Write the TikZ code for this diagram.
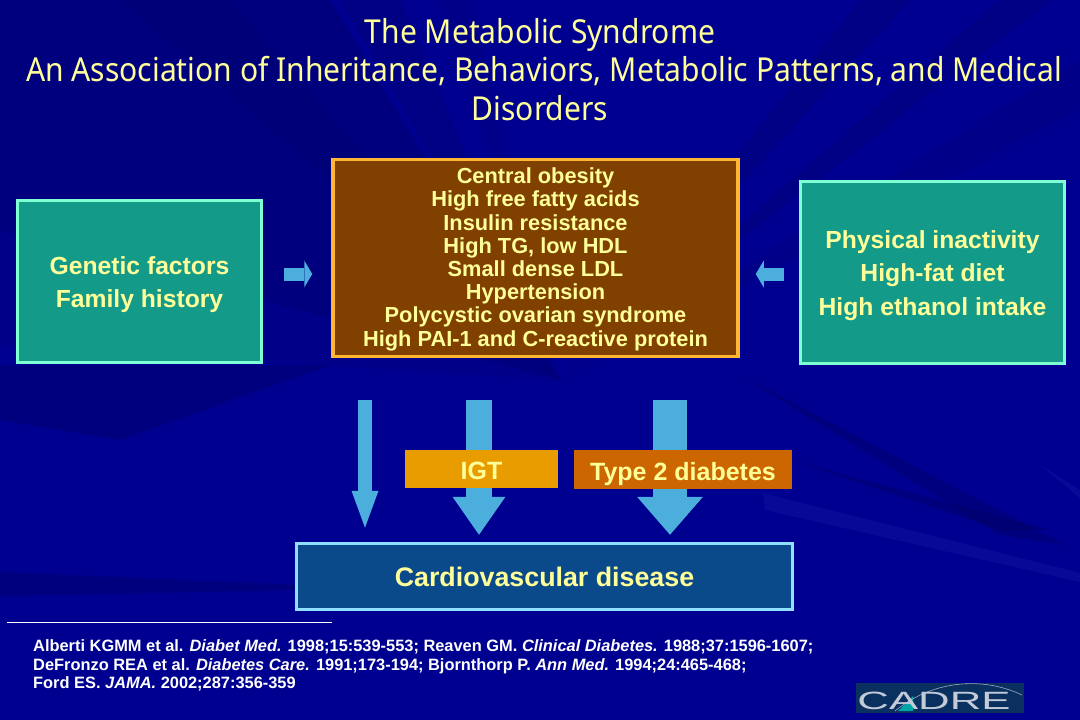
\documentclass[tikz,border=0pt]{standalone}
\usepackage{fontspec}
\setmainfont{Liberation Sans}
\newfontfamily\titlefont{Noto Sans}
\usetikzlibrary{arrows.meta}
\definecolor{bgbase}{HTML}{000090}
\definecolor{bgdark}{HTML}{000058}
\definecolor{ray}{HTML}{3A46C0}
\definecolor{titleyellow}{HTML}{FFFF99}
\definecolor{sideline}{HTML}{7FFFD4}
\definecolor{sidefill}{HTML}{149A88}
\definecolor{midline}{HTML}{FFB733}
\definecolor{midfill}{HTML}{7F4000}
\definecolor{flow}{HTML}{4BAEDC}
\definecolor{cvdline}{HTML}{8FDFFF}
\definecolor{cvdfill}{HTML}{0A4A8A}
\definecolor{igtfill}{HTML}{E89C00}
\definecolor{typefill}{HTML}{CC6600}
\definecolor{logofill}{HTML}{0A3060}
\tikzset{
	titletext/.style={font=\titlefont\fontsize{33}{38.5}\selectfont, text=titleyellow, align=center, xscale=0.91},
	sidebox/.style={draw=sideline, fill=sidefill, line width=3.5pt, inner sep=0pt, text=titleyellow, align=center, font=\bfseries\fontsize{24.7}{33.5}\selectfont},
	midbox/.style={draw=midline, fill=midfill, line width=3.5pt, inner sep=0pt, text=titleyellow, align=center, font=\bfseries\fontsize{21.8}{23.2}\selectfont},
	tagbox/.style={inner sep=0pt, text=titleyellow, text height=26pt, text depth=5pt, font=\bfseries\fontsize{25}{26}\selectfont},
	refline/.style={text=white, anchor=west, inner sep=0pt, font=\bfseries\fontsize{16.4}{18}\selectfont},
	flowarrow/.style={draw=flow, line width=#1}
}
\begin{document}
\begin{tikzpicture}[x=1pt, y=-1pt]
	\useasboundingbox (0,0) rectangle (1080,720);
	%background
	\fill[bgbase] (0,0) rectangle (1080,720);
	\foreach \ax/\ay/\bx/\by/\op in {0/0/0/230/0.3, 0/0/330/0/0.3, 120/0/230/0/0.15, 340/0/400/0/0.18, 440/0/470/0/0.12, 860/0/910/0/0.18, 1000/0/1050/0/0.18, 0/230/0/345/0.12, 1080/60/1080/110/0.12}{
		\fill[bgdark, opacity=\op] (560,380) -- (\ax,\ay) -- (\bx,\by) -- cycle;
	}
	\fill[bgdark, opacity=0.3] (0,365) -- (330,365) -- (120,440) -- (0,420) -- cycle;
	\fill[bgdark, opacity=0.3] (740,375) -- (1065,545) -- (1000,535) -- cycle;
	\fill[bgdark, opacity=0.3] (790,460) -- (1050,530) -- (1000,530) -- cycle;
	\fill[bgdark, opacity=0.3] (0,572) -- (300,585) -- (300,590) -- (0,596) -- cycle;
	\fill[ray, opacity=0.15] (763,493) -- (1080,573) -- (1080,582) -- (765,510) -- cycle;
	\fill[ray, opacity=0.15] (1040,465) -- (1080,490) -- (1080,498) -- cycle;

	%title
	\node[titletext] (maintitle) at (540,69.5) {The Metabolic Syndrome\\\hspace*{9pt}An Association of Inheritance, Behaviors, Metabolic Patterns, and Medical\\Disorders};

	%boxes
	\node[sidebox, text height=58pt, minimum width=244pt, minimum height=162pt] (genetic) at (139.5,281.5) {Genetic factors\\Family history};
	\node[midbox, text height=181pt, minimum width=405pt, minimum height=197pt] (central) at (535.5,258) {Central obesity\\High free fatty acids\\Insulin resistance\\High TG, low HDL\\Small dense LDL\\Hypertension\\Polycystic ovarian syndrome\\High PAI-1 and C-reactive protein};
	\node[sidebox, text height=91pt, minimum width=264pt, minimum height=182pt] (inactivity) at (932.5,272.5) {Physical inactivity\\High-fat diet\\High ethanol intake};
	\node[draw=cvdline, fill=cvdfill, line width=3.5pt, inner sep=0pt, text=titleyellow, font=\bfseries\fontsize{26.8}{30}\selectfont, minimum width=496pt, minimum height=66pt] (cvd) at (544.5,576.5) {Cardiovascular disease};

	%arrows
	\coordinate (inleft) at (284,274);
	\coordinate (inright) at (784,274);
	\coordinate (downa) at (365,400);
	\coordinate (downb) at (479,400);
	\coordinate (downc) at (670,400);
	\draw[flowarrow=13pt, -{Triangle[length=8pt,width=27pt,line width=0pt]}, shorten >=19pt] (inleft) -- (central.west |- inleft);
	\draw[flowarrow=13pt, -{Triangle[length=8pt,width=27pt,line width=0pt]}, shorten >=16pt] (inright) -- (central.east |- inright);
	\draw[flowarrow=14pt, -{Triangle[length=37pt,width=27pt,line width=0pt]}, shorten >=14pt] (downa) -- (downa |- cvd.north);
	\draw[flowarrow=26pt, -{Triangle[length=38pt,width=53pt,line width=0pt]}, shorten >=7pt] (downb) -- (downb |- cvd.north);
	\draw[flowarrow=34pt, -{Triangle[length=38pt,width=66pt,line width=0pt]}, shorten >=7pt] (downc) -- (downc |- cvd.north);

	%tags on the arrows
	\node[tagbox, fill=igtfill, minimum width=153pt, minimum height=38pt] (igt) at (481.5,469) {IGT};
	\node[tagbox, fill=typefill, minimum width=218pt, minimum height=39pt] (diabetes) at (683,469.5) {Type 2 diabetes};

	%references
	\coordinate (rulestart) at (7,622);
	\coordinate (ruleend) at (332,622);
	\draw[white, line width=0.8pt] (rulestart) -- (ruleend);
	\node[refline] (refa) at (33,647) {Alberti KGMM et al. \textit{Diabet Med.} 1998;15:539-553; Reaven GM. \textit{Clinical Diabetes.} 1988;37:1596-1607;};
	\node[refline] (refb) at (33,666) {DeFronzo REA et al. \textit{Diabetes Care.} 1991;173-194; Bjornthorp P. \textit{Ann Med.} 1994;24:465-468;};
	\node[refline] (refc) at (33,684) {Ford ES. \textit{JAMA.} 2002;287:356-359};

	%logo
	\fill[logofill] (856,683) rectangle (1024,713);
	\fill[teal!70!cyan] (898,711) -- (913,696) -- (913,711) -- cycle;
	\draw[white!60!logofill, line width=0.6pt] (895,711) .. controls (930,682) and (980,675) .. (1022,695);
	\node[text=white!75!logofill, inner sep=0pt, xscale=1.75, font=\fontsize{25}{25}\selectfont] (cadre) at (934,701) {CADRE};
\end{tikzpicture}
\end{document}
